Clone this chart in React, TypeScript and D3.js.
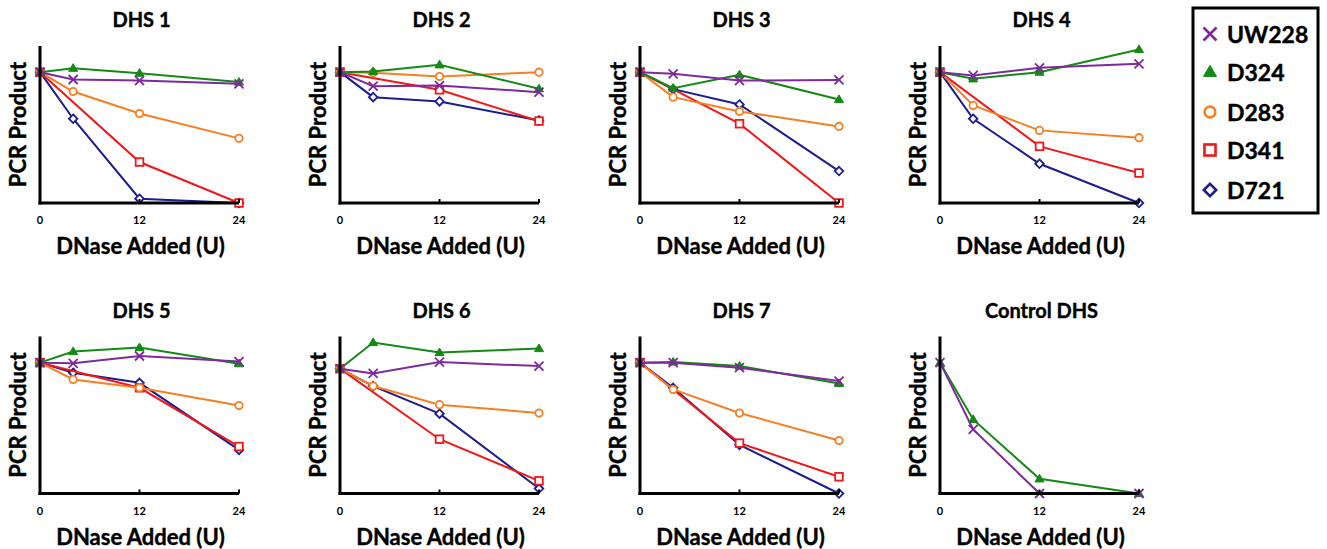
import React from 'react';
import * as d3 from 'd3';

const doses = [0, 4, 12, 24];
const xTicks = [0, 12, 24];
const panelTitles = ['DHS 1', 'DHS 2', 'DHS 3', 'DHS 4', 'DHS 5', 'DHS 6', 'DHS 7', 'Control DHS'];
const seriesNames = ['UW228', 'D324', 'D283', 'D341', 'D721'];
const seriesColors = ['#7E2A9C', '#138A13', '#F57F22', '#F01818', '#1C1C8E'];
const seriesShapes = ['x', 'triangle', 'circle', 'square', 'diamond'];

// rows: UW228, D324, D283, D341, D721 ; columns: doses 0,4,12,24 (null = not plotted)
const dhs1 = [
  [1.0, 0.944, 0.936, 0.911],
  [1.0, 1.03, 0.992, 0.924],
  [1.0, 0.852, 0.684, 0.494],
  [1.0, null, 0.313, 0.0],
  [1.0, 0.644, 0.033, 0.0],
];
const dhs2 = [
  [1.0, 0.893, 0.898, 0.847],
  [1.0, 1.005, 1.056, 0.873],
  [1.0, 0.995, 0.967, 1.0],
  [1.0, null, 0.865, 0.626],
  [1.0, 0.809, 0.776, 0.631],
];
const dhs3 = [
  [1.0, 0.987, 0.936, 0.941],
  [1.0, 0.878, 0.98, 0.791],
  [1.0, 0.809, 0.70, 0.585],
  [1.0, null, 0.606, 0.0],
  [1.0, 0.87, 0.753, 0.244],
];
const dhs4 = [
  [1.0, 0.975, 1.033, 1.064],
  [1.0, 0.949, 1.0, 1.173],
  [1.0, 0.746, 0.555, 0.499],
  [1.0, null, 0.433, 0.229],
  [1.0, 0.644, 0.30, 0.0],
];
const dhs5 = [
  [1.0, 0.995, 1.051, 1.008],
  [1.0, 1.085, 1.115, 0.992],
  [1.0, 0.872, 0.808, 0.672],
  [1.0, null, 0.808, 0.359],
  [1.0, 0.923, 0.846, 0.333],
];
const dhs6 = [
  [0.954, 0.918, 1.005, 0.974],
  [0.954, 1.154, 1.077, 1.108],
  [0.954, 0.821, 0.679, 0.615],
  [0.954, null, 0.415, 0.097],
  [0.954, 0.821, 0.61, 0.038],
];
const dhs7 = [
  [1.0, 1.0, 0.962, 0.859],
  [1.0, 1.005, 0.974, 0.841],
  [1.0, 0.795, 0.615, 0.405],
  [1.0, null, 0.385, 0.128],
  [1.0, 0.808, 0.372, 0.0],
];
const controlDhs = [
  [1.0, 0.49, 0.0, 0.0],
  [1.0, 0.566, 0.112, 0.0],
  [null, null, null, null],
  [null, null, null, null],
  [null, null, null, null],
];
const panelData = [dhs1, dhs2, dhs3, dhs4, dhs5, dhs6, dhs7, controlDhs];

const FONT = 'Lato, "Open Sans", sans-serif';
const heavy = { stroke: 'black', strokeWidth: 0.4 };

function Marker({ shape, color, x, y, s }: { shape: string; color: string; x: number; y: number; s: number }) {
  const sw = s > 5 ? 2.6 : 1.8;
  if (shape === 'x') {
    return (
      <path
        d={`M${x - s},${y - s}L${x + s},${y + s}M${x - s},${y + s}L${x + s},${y - s}`}
        stroke={color}
        strokeWidth={sw}
        fill="none"
      />
    );
  }
  if (shape === 'triangle') {
    const h = s * 1.7;
    return (
      <path
        d={`M${x},${y - h * 0.6}L${x + s},${y + h * 0.4}L${x - s},${y + h * 0.4}Z`}
        fill={color}
        stroke={color}
        strokeWidth={1}
      />
    );
  }
  if (shape === 'circle') {
    return <circle cx={x} cy={y} r={s * 0.82} fill="white" stroke={color} strokeWidth={sw} />;
  }
  if (shape === 'square') {
    const h = s * 0.85;
    return <rect x={x - h} y={y - h} width={2 * h} height={2 * h} fill="white" stroke={color} strokeWidth={sw} />;
  }
  const h = s * 0.95;
  return (
    <path
      d={`M${x},${y - h}L${x + h},${y}L${x},${y + h}L${x - h},${y}Z`}
      fill="white"
      stroke={color}
      strokeWidth={sw}
    />
  );
}

function Panel({ idx }: { idx: number }) {
  const col = idx % 4;
  const row = Math.floor(idx / 4);
  const left = 40 + 300 * col;
  const right = left + 199;
  const bottom = 203 + 290.5 * row;
  const top = bottom - 157;
  const x = d3.scaleLinear().domain([0, 24]).range([left, right]);
  const y = d3.scaleLinear().domain([0, 1.2]).range([bottom, top]);
  const data = panelData[idx];
  const line = d3
    .line<[number, number | null]>()
    .defined((d) => d[1] !== null)
    .x((d) => x(d[0]))
    .y((d) => y(d[1] as number));
  const order = [4, 3, 2, 1, 0];
  const cx = (left + right) / 2;
  return (
    <g>
      <text x={cx + 2} y={top - 19} textAnchor="middle" fontFamily={FONT} fontWeight="bold" fontSize={20} {...heavy}>
        {panelTitles[idx]}
      </text>
      {order.map((si) => {
        const pts = doses.map((d, i) => [d, data[si][i]] as [number, number | null]).filter((p) => p[1] !== null);
        if (pts.length === 0) return null;
        return (
          <g key={si}>
            <path d={line(pts) || ''} fill="none" stroke={seriesColors[si]} strokeWidth={2} />
            {pts.map((p, k) => (
              <Marker key={k} shape={seriesShapes[si]} color={seriesColors[si]} x={x(p[0])} y={y(p[1] as number)} s={4.5} />
            ))}
          </g>
        );
      })}
      <line x1={left} x2={left} y1={top} y2={bottom + 1.5} stroke="black" strokeWidth={3} />
      <line x1={left - 1.5} x2={right} y1={bottom} y2={bottom} stroke="black" strokeWidth={3} />
      {xTicks.map((t) => (
        <g key={t}>
          <line x1={x(t)} x2={x(t)} y1={bottom} y2={bottom - 4} stroke="black" strokeWidth={2} />
          <text x={x(t)} y={bottom + 21} textAnchor="middle" fontFamily={FONT} fontWeight="bold" fontSize={11}>
            {t}
          </text>
        </g>
      ))}
      <text x={cx + 1} y={bottom + 51} textAnchor="middle" fontFamily={FONT} fontWeight="bold" fontSize={22} {...heavy}>
        DNase Added (U)
      </text>
      <text
        transform={`translate(${left - 14},${(top + bottom) / 2}) rotate(-90)`}
        textAnchor="middle"
        fontFamily={FONT}
        fontWeight="bold"
        fontSize={22}
        {...heavy}
      >
        PCR Product
      </text>
    </g>
  );
}

function Legend() {
  const x0 = 1193;
  const y0 = 8;
  const ys = [34, 72, 112, 150, 190];
  return (
    <g>
      <rect x={x0} y={y0} width={125} height={205} fill="white" stroke="black" strokeWidth={3} />
      {seriesNames.map((n, i) => (
        <g key={n}>
          <Marker shape={seriesShapes[i]} color={seriesColors[i]} x={1210} y={ys[i]} s={6.5} />
          <text x={1227} y={ys[i]} dominantBaseline="central" fontFamily={FONT} fontWeight="bold" fontSize={23} {...heavy}>
            {n}
          </text>
        </g>
      ))}
    </g>
  );
}

export default function App() {
  return (
    <svg
      width={1327}
      height={549}
      style={{ position: 'absolute', left: 0, top: 0, background: 'white' }}
    >
      <rect width={1327} height={549} fill="white" />
      {panelTitles.map((_, i) => (
        <Panel key={i} idx={i} />
      ))}
      <Legend />
    </svg>
  );
}
